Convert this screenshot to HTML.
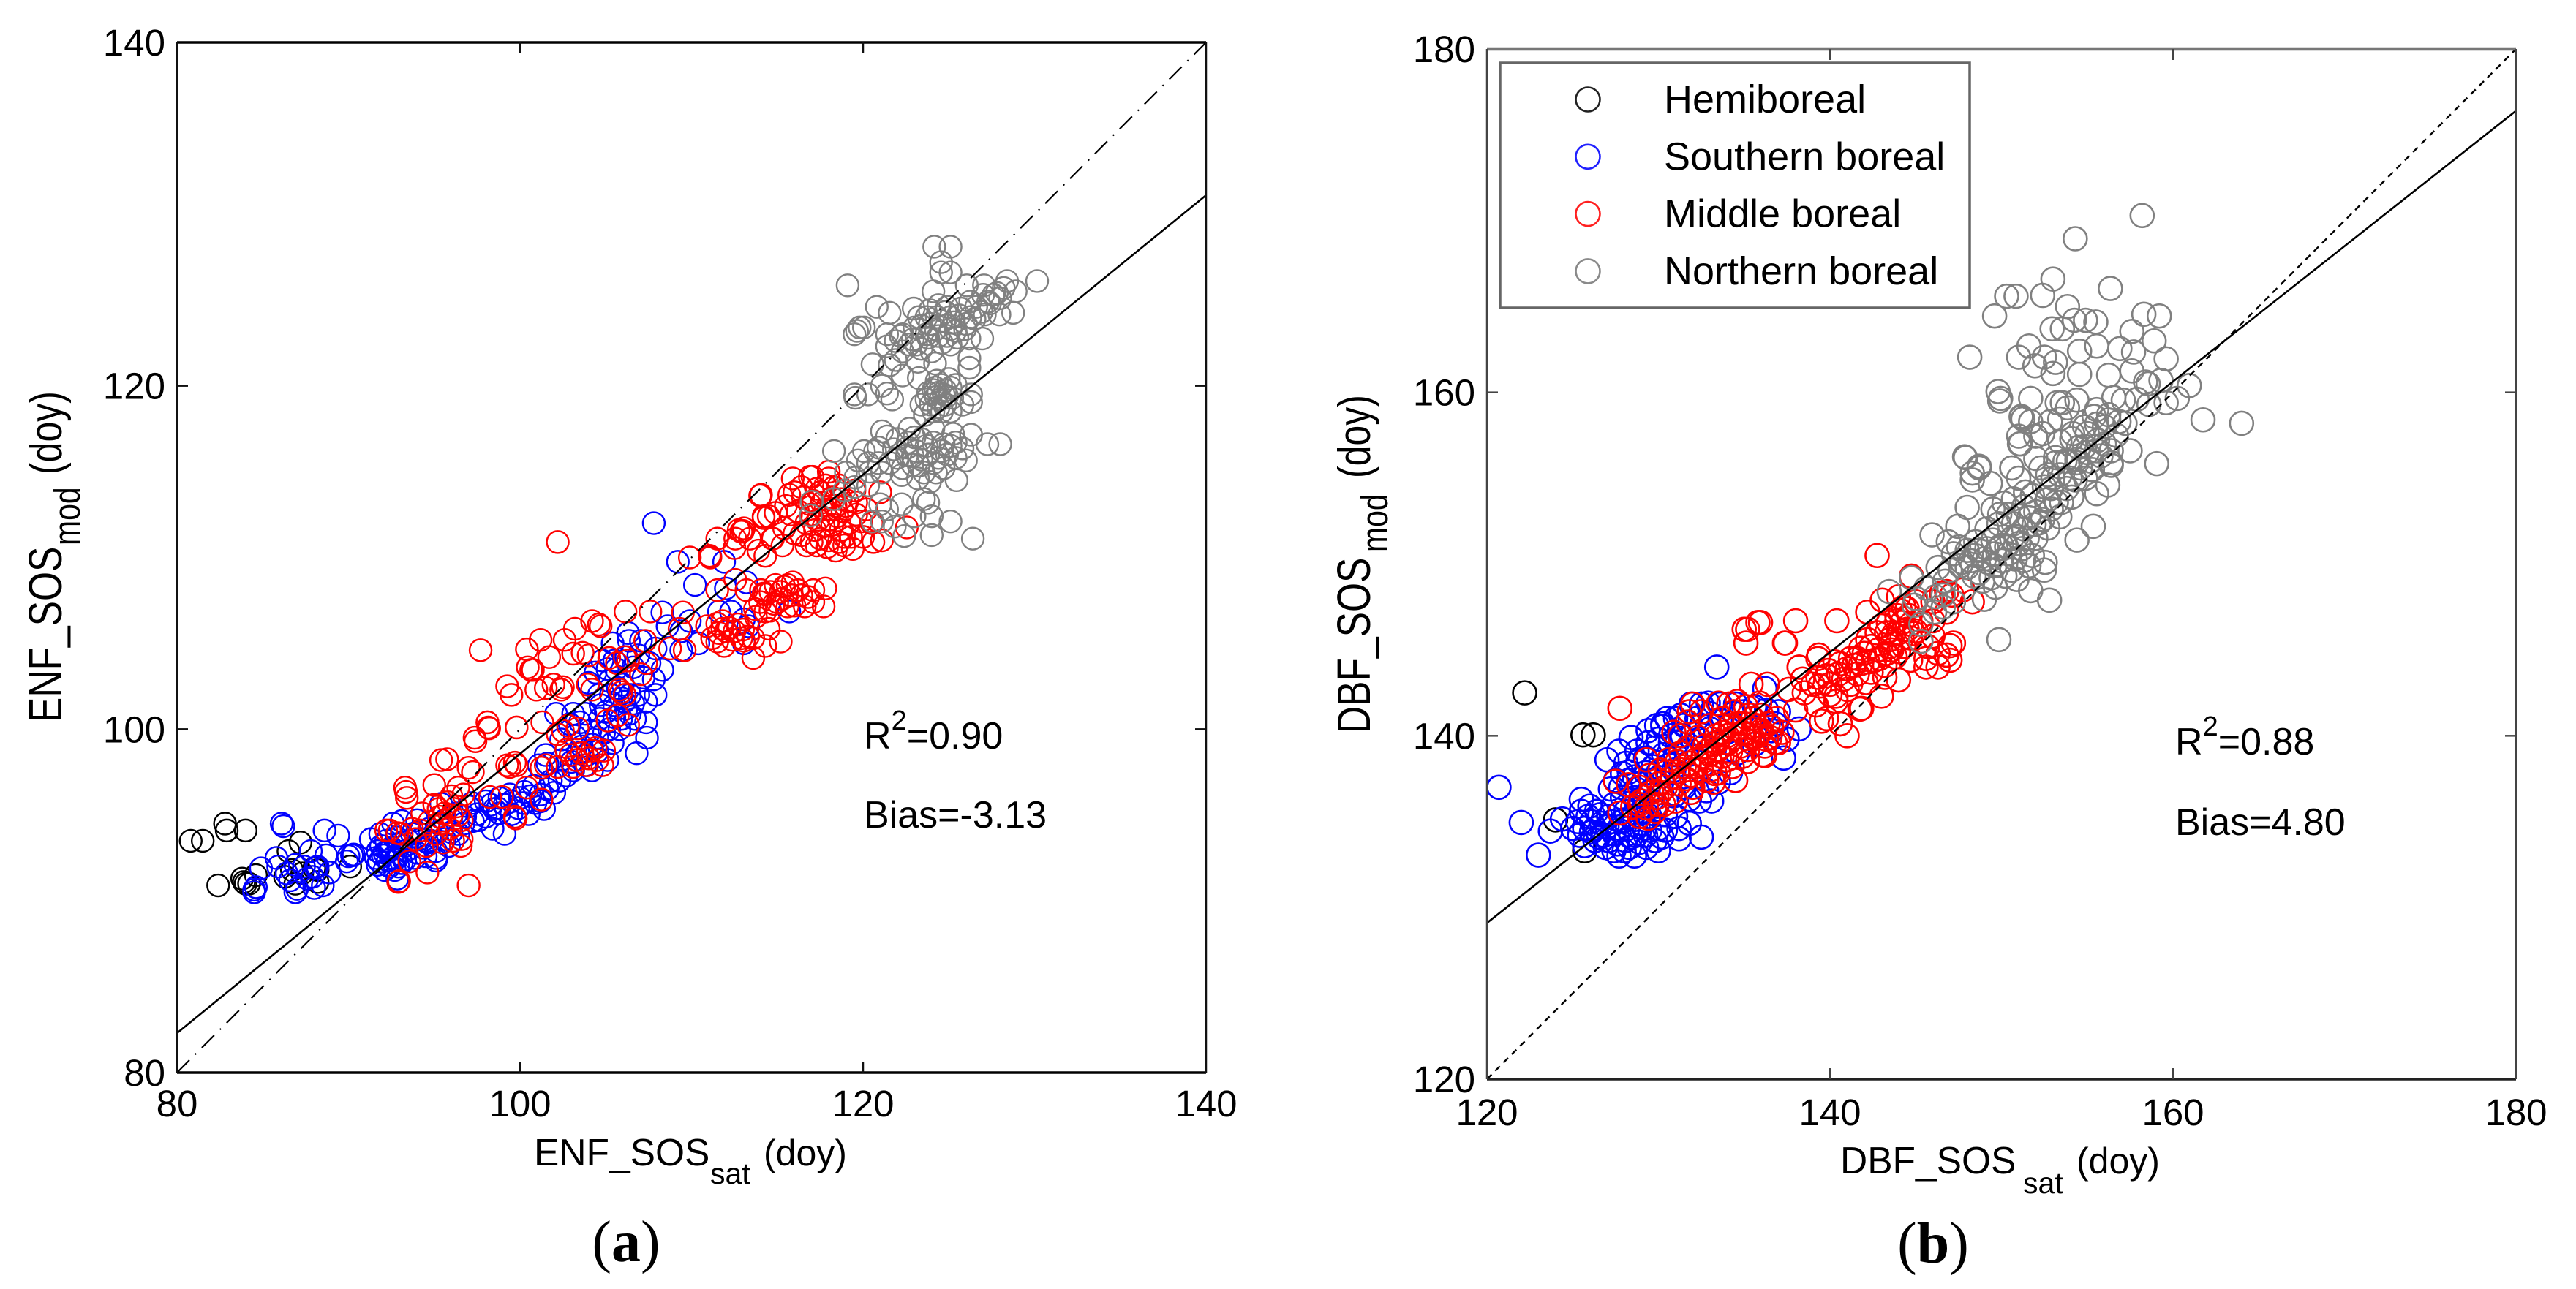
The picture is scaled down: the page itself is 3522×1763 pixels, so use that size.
<!DOCTYPE html>
<html><head><meta charset="utf-8"><title>SOS scatter plots</title>
<style>html,body{margin:0;padding:0;background:#fff}svg{display:block}text{font-family:"Liberation Sans",Arial,sans-serif;fill:#000}</style>
</head><body>
<svg id="fig" xmlns="http://www.w3.org/2000/svg" width="3522" height="1763" viewBox="0 0 3522 1763">
<g id="panelA"></g>
<g id="panelB"></g>
<g>
<text x="730" y="1594" font-size="51.5">ENF_SOS</text>
<text x="971" y="1619" font-size="41">sat</text>
<text x="1044" y="1594" font-size="50">(doy)</text>
<g transform="translate(84,988) rotate(-90) scale(1,1.25)">
<text x="0" y="0" font-size="51.5">ENF_SOS</text><text x="242" y="20" font-size="41">mod</text><text x="339" y="0" font-size="50">(doy)</text></g>
<text x="1181" y="1024" font-size="52">R<tspan font-size="38" dy="-26">2</tspan><tspan dy="26">=0.90</tspan></text>
<text x="1181" y="1132" font-size="52">Bias=-3.13</text>
<text x="856" y="1725" font-size="80" text-anchor="middle" style='font-family:"Liberation Serif",serif'>(<tspan font-weight="bold">a</tspan>)</text>
</g>
<g>
<text x="2516" y="1605" font-size="51.5">DBF_SOS</text>
<text x="2766" y="1632" font-size="41">sat</text>
<text x="2839" y="1605" font-size="50">(doy)</text>
<g transform="translate(1873,1003) rotate(-90) scale(1,1.25)">
<text x="0" y="0" font-size="51.5">DBF_SOS</text><text x="248" y="19" font-size="41">mod</text><text x="349" y="0" font-size="50">(doy)</text></g>
<text x="2974" y="1032" font-size="52">R<tspan font-size="38" dy="-26">2</tspan><tspan dy="26">=0.88</tspan></text>
<text x="2974" y="1142" font-size="52">Bias=4.80</text>
<text x="2643" y="1727" font-size="80" text-anchor="middle" style='font-family:"Liberation Serif",serif'>(<tspan font-weight="bold">b</tspan>)</text>
</g>
<g id="legend"></g>
</svg>
<script>
const enfTicks = [80, 100, 120, 140];
const dbfTicks = [120, 140, 160, 180];
const enfFitX = [80, 140];
const enfFitY = [82.3, 131.1];
const dbfFitX = [120, 180];
const dbfFitY = [129.1, 176.4];
const legendLabels = ["Hemiboreal", "Southern boreal", "Middle boreal", "Northern boreal"];

const enfHemiboreal = [[80.8,93.5],[81.5,93.5],[82.8,94.5],[82.9,94.1],[84,94.1],[82.4,90.9],[83.8,91.3],[83.9,91.1],[84,91],[84.2,91],[84.6,91.5],[86.5,92.9],[87.2,93.4],[86.3,91.4],[86.9,91],[88.2,91.8],[88,91.9],[88.2,91.1],[90.1,92],[87.3,91.6],[86.7,91.8]];

const enfSouthern = [[86.1,94.5],[86.2,94.35],[88.6,94.1],[89.4,93.8],[84.5,90.65],[84.6,90.8],[84.5,90.5],[84.9,91.9],[85.9,92],[85.8,92.5],[86.9,92.1],[87.8,92.9],[88.7,92.65],[88.1,91.95],[87.9,91.4],[86.9,90.5],[88,90.75],[88.5,90.9],[86.6,91.2],[87.4,92],[88.9,91.65],[90,92.6],[90.2,92.65],[90.3,92.7],[89.9,92.3],[87,90.7],[86.4,91.6],[87.6,91.3],[88.2,92],
[91.3,93.6],[91.85,93.9],[92.6,94.5],[93.1,94.65],[94,94.7],[91.7,92.9],[92.1,92.8],[92.4,92.95],[92,92.65],[91.6,92.5],[92.3,92.35],[92.55,92.5],[91.7,92.1],[92.1,91.8],[92.7,91.8],[92.85,91.3],[93.55,92.3],[93.1,92.2],[93.85,92.5],[94,92.8],[93.4,92.95],[93,93.35],[93.5,93.5],[94.35,93.1],[95.1,92.5],[95.1,92.35],[95.1,92.9],[94.6,93.4],[95.4,95.65],[95.85,93.2],[96.7,94.5],[97.25,94.65],[98,95.8],[98.5,95.35],[99.1,93.9],[98.4,94.2],[97.5,95.05],[99.5,95.05],[100.5,95.05],[101.4,95.35],[101.1,97.9],[101.5,98.5],[100.25,96.35],[98.8,95.1],
[94,94],[94.7,94.2],[95.6,94.7],[96.3,95.1],[97,95.5],[98.8,96],[99.4,96.2],[100,96],[100.8,96.7],[101.2,96.2],[101.8,97],
[107.8,112],[109.2,109.75],[111.1,110.05],[111.9,109.75],[110.2,108.4],[112,108.2],[113.2,108.55],[108.3,106.8],[109.9,106.3],[108.6,106],[109.4,105.7],[110.4,105],[109.4,104.6],[111.6,106.85],[112.3,106.85],[113.05,106.4],[113.3,106],[113.05,105],[115.7,106.85],[106.3,105.6],[105.4,105],[106.35,105.15],[107.05,105.15],[107.9,104.7],[107.55,103.85],[108.3,103.45],[107.8,102.9],[107.9,102],[107.35,101.6],[106.9,102],[106.6,101.5],[106.2,101.2],[107.35,100.4],[107.4,99.5],[106.8,98.6],[105.4,99.2],[104.65,100.6],[102.1,100.9],[103.1,100.9],[103.8,100.9],[105.9,100.6],[104.1,99.9],[103.2,99.6],[102.4,99.4],[103.6,99],[104.5,98.7],[105.1,98.2],[102.4,98.2],[101.6,98],[103,98.1],[103.8,97.9],[104.2,97.6],
[104.8,104],[105.6,103.5],[106.6,103.6],[105.2,102.8],[106,102.6],[104,102.7],[104.6,102],[105.9,101.8],[106.4,102],[105.5,101.4],[102.9,100.3],[103.5,100.4]];

const enfSouthernCore = [[91.9,93.2],[92.2,93.5],[92.5,93.1],[92.8,93.7],[92.3,92.9],[92.7,92.4],[93,92.7],[93.3,93.2],[91.8,92.3],[92.4,92],[92.9,92],[93.3,92.4],[93.7,93.9],[94.2,93.6],[94.5,92.6],[94.8,93.5],[95.2,94],[95.6,93.6],[96,94],[96.4,93.9],[96.8,94.9],[97.2,95.7],[97.6,94.7],[98,94.9],[98.3,95.6],[98.7,95.4],[99.1,95.6],[99.5,95.8],[99.9,95.4],[100.2,95.7],[100.6,96.1],[100.9,95.7],[101.2,95.8],[101.6,96.5],[102,96.3],[102.3,97],[102.7,97.3],[103.1,97.6],[103.4,98.6],[103.9,98.5],[104.2,99.1],[104.5,99.5],[104.9,99.8],[105.2,100],[105.5,100.7],[105,101],[104.7,101.4],[105.3,102],[105.7,102.4],[106.1,101.6],[106.4,100.9],[106.7,100.6],[105.8,100],[105.1,103.5],[105.5,104],[106.2,104.2],[106.9,104.3],[107.2,103],[104.4,103.3]];

const enfMiddle = [[97,90.9],[92.9,91.1],[92.95,91.15],[93.55,92.3],[94.6,91.65],[92.4,94.1],[92.85,93.95],[93.1,93.9],[93.7,94.2],[92.2,94.1],[94.55,93.2],[96.55,93.2],[96.6,93.6],[93.3,96.6],[93.35,96.35],[93.4,96],[95,96.75],[95.4,98.2],[95.75,98.25],[97,97.75],[97.25,97.5],[95.25,95.35],[95.8,95.75],[96.4,96.6],[96.7,96.2],[96,95],[95.4,94.5],[96.4,95],[95.1,93.9],[97.35,99.5],[98.1,100.4],[98.15,100.1],[99.8,100.1],[99.25,97.9],[99.4,97.8],[99.8,97.9],[98.25,96.05],[98.95,96.05],[99.7,94.9],[99.75,94.8],[100.4,96.6],[101.25,97.75],[101.25,95.9],[99.25,102.5],[99.5,102],[100.95,102.3],[100.45,103.6],[100.65,103.45],
[102.2,110.9],[97.7,104.6],[100.4,104.65],[101.2,105.2],[102.6,105.2],[103.2,105.85],[104.2,106.3],[104.6,106.1],[104.7,106],[101.7,104.2],[100.75,103.45],[103.1,104.4],[103.65,104.45],[104,104.3],[105.2,104.15],[105.65,103.85],[106.1,104.2],[106.3,104],[107.3,105.15],[107.35,103.85],[107.05,103.2],[108.75,104.7],[109.6,104.6],[109.5,106.8],[107.6,106.85],[106.15,106.85],[109.3,105.85],[101.5,102.4],[101.95,102.6],[102.4,102.3],[102.5,102.45],[103.95,102.6],[104.2,102.3],[105.9,102.15],[106.1,102],[105.8,102.3],[105.1,100.5],[105.7,100.8],[106.3,100.25],[102.5,99.9],[103.35,100.05],[98.1,100.4],[98.2,100.05],[99.8,100.1],[101.3,100.4],[97.4,99.3],[99.7,98.05],[102.95,98.5],[104.2,98.75],[104.4,98.9],[104.9,98.75],[104,98.3],[101.5,97.9],[102.2,97.8],
[109.9,110],[111.05,110.1],[111.1,110],[111.5,111.1],[114,113.6],[112.75,111.6],[113.05,111.7],[112.55,111.1],[113.4,111.1],[114.2,112.4],[114.5,112.4],[113.9,110.4],[114.3,110.1],[114.75,111.1],[112.5,110.55],[111.5,108.1],[112.55,108.7],[113.2,108.1],[114.05,108.1],[114.3,107.85],[114.9,108.4],[115.2,108],[115.6,108.4],[115.9,108.55],[117.1,108.1],[117.8,108.2],[117.7,107.15],[116.6,107.15],[115.6,107.15],[117.1,107.4],[110.9,106],[111.5,106.15],[111.8,105.85],[112,105.7],[112.5,105.7],[112.9,105.3],[113.3,105.4],[111.9,104.85],[113.05,105.15],[113.6,104.15],[114.3,104.85],[115.2,105.1],[114.5,105.85],[113.75,106.55],[114.3,106.85],[114.8,107.3],[115.3,107.6],[116,107.2],[116.4,107.8],[114,107.4],
[114.05,113.65],[115.9,114.6],[117.05,114.7],[116.4,114.1],[114.2,112.3],[118,114.6],[115.7,113.65],[116,113.8],[121,113.8],[122.55,111.75],[112.9,111.5],[114.7,111.1],[113,111.55],
[116.5,113.5],[117,112.5],[117.5,113.8],[117.8,112.8],[118.2,113.5],[118.6,114.2],[118.8,112.7],[119.1,113.3],[119.5,113.9],[117.2,111.6],[117.7,111.8],[118.2,111.9],[118.7,111.6],[119.2,112],[119.6,112.5],[117.3,110.7],[117.9,110.6],[118.4,110.4],[118.9,110.7],[119.4,110.5],[120,111.2],[116.4,111.3],[115.8,112.5],[116,111.4],[115.5,113],[120.2,112.8],[120.5,112],[118,115],[116.9,114.7],[119,113],[117.4,112.2],[118.4,113],[117.1,113.3],[118,112.2],[116.7,110.7],[115.3,110.7],[120.6,110.9],[121.1,111]];

const enfMiddleCore = [[94.3,95.1],[94.7,94.6],[95,95.6],[95.3,94.9],[95.6,95.1],[96,96.1],[96.3,95.5],[96.6,94.7],[95.9,94.2],[95.5,93.4],[96.1,93.5],[93.9,93.6],[94.2,94.1],[103.3,98.2],[103.6,98.6],[103.9,97.9],[104.5,98.2],[104.8,97.9],[103.1,97.8],[102.7,98.8],[102.2,99.7],[102.8,100.2],[111.2,105.3],[111.6,105.6],[111.8,106.3],[112.2,105.9],[112.4,105.2],[112.7,106.1],[113,105.8],[111.5,105.1],[113.7,107],[114.2,107.9],[114.6,108],[115,107.4],[115.4,108.3],[115.8,107.8],[116.2,108.1],[116.8,107.7],[114.6,106.9],[113.6,105.3],[116.9,113.1],[117.3,114],[117.6,113.2],[118.1,112.8],[118.5,112.4],[118.9,111.2],[119.3,111.2],[117,110.9],[117.5,111.1],[118,111],[118.6,110.9],[116.7,112],[117.8,114.2],[118.3,114.1],[119.6,113.2],[119.9,112.1],[116.2,112.7],[115.4,111.7],[114.9,112.6],[118.7,113.4]];

const enfNorthern = [[119.1,125.85],[124.15,128.1],[125.1,128.1],[124.55,127.2],[124.55,126.6],[125.1,126.6],[124.1,125.5],[126.05,125.85],[130.15,126.1],[128.4,126.1],[128.2,125.7],[127.05,125.85],[128.9,125.5],[127.8,125.4],[127,125.3],[120.8,124.6],[121.55,124.25],[122.95,124.5],[124.4,124.7],[128.75,124.25],[127.95,124.15],[127.1,124.15],[126.25,124.9],[126.25,124],[125.1,124],[124.55,123.75],[123.7,124],[123.25,124],[119.8,123.4],[120.05,123.4],[119.5,123],[119.65,123.2],[121.4,123],[122.3,123],[123.7,123],[124.25,123.3],[125.1,123.3],[125.95,123.3],[126.95,122.75],[121.4,122.3],[122.3,122],[123.4,122.15],[124,122],[125.1,122.4],[126.2,121.6],[126.2,121.05],[126.2,122.75],[120.55,121.25],[121.55,121.2],[122.3,120.6],[123.25,120.45],[119.5,119.5],[119.55,119.3],[120.3,119.5],[121.1,120],[121.4,119.55],[121.7,119.2],
[124.1,119.75],[124.55,120.05],[124.8,119.75],[125.1,119.9],[125.4,120.05],[124.25,119.35],[123.7,119.2],[123.95,118.9],[124.4,118.75],[123.4,118.9],[124.1,118.5],[124.7,119.5],[124.8,118.9],[126.3,119.5],[126.3,119.05],[125.8,118.9],[125.1,118.5],
[118.3,116.2],[121.1,117.35],[122.7,117.5],[126.3,117.15],[127.25,116.6],[128,116.6],[125.45,114.5],[120.05,116.2],[119.7,115.65],[120.7,116.2],[121.4,117.05],[122,116.9],[124.1,117.5],[125.25,117.2],[125.1,116.5],[125.8,116.35],[126,115.65],[123.7,116.5],[123.1,116.2],[122.55,115.95],[122,115.8],[121.55,115.5],[123.25,115.35],[124.1,115.5],[124.7,115.2],[124.25,114.95],[123.55,114.95],[122.25,114.8],[121.1,114.95],[119.55,114.65],[120.3,114.2],[119,114.95],[118.3,113.4],[117,113.25],[116.95,112.45],[121,113.1],[120.55,112.1],[121.4,112.8],[122.25,113.1],[123,112.4],[121.1,112.1],[121.85,111.8],[123.55,113.4],[123.8,113.2],[124,112.4],[125.1,112.1],[124,111.3],[126.4,111.1],[122.4,111.25],
[126.6,124.6],[127.4,124.8],[125.7,124.5],[124.9,124.6],[123,123.4],[123.9,123.6],[125.5,122.8],[124.6,122.5],[123.2,121.4],[124.2,121.3],[122.9,122.7],[121.9,121.5],[122.6,116.4],[123.4,116.9],[124.6,116.2],[122.9,115.4],[120.9,115.5],[120.4,115],[125.4,115.8]];

const enfNorthernCore = [[123.9,124.4],[124.3,124],[124.8,124.3],[125.3,123.7],[125.6,124.1],[126,123.6],[126.5,123.9],[126.9,124.3],[127.3,124.9],[127.6,125.3],[128,125.1],[123.4,123.5],[123.8,122.8],[124.4,122.9],[124.9,122.9],[125.4,123.2],[123.1,122.4],[122.7,122.4],[122.2,122.9],[121.9,122.6],[124.2,119.9],[124.5,119.2],[124.9,119.4],[125.2,119.3],[124.4,119.6],[124.6,118.5],[125,120.4],[123.8,119.6],[124.3,120.3],[123.6,118.3],[122.9,115.9],[123.4,115.7],[123.8,116],[124.4,115.8],[124.9,116],[125.4,116.7],[123.2,114.6],[123.9,114.4],[122.6,116.7],[121.8,116.3],[120.9,116.4],[122.3,115.2],[124.7,116.6],[124.1,116.7],[123,117],[120.3,115.5],[119.5,114.1],[118.9,113.9]];

const dbfHemiboreal = [[122.2,142.5],[125.6,140.05],[126.2,140.05],[124,135.1],[125.7,133.3]];

const dbfSouthern = [[120.7,137],[122,134.95],[123.7,134.45],[123,133.05],[125,134.6],[125.5,136.3],[124.4,135.15],[125.5,135.6],[126,135.9],[125.3,135],[125.7,134.6],[126.1,135],[126.4,135.6],[126.7,134.9],[127.1,135.3],[125.7,133.6],[126.3,133.9],[126.8,134.2],[127.4,134.3],[127.7,133],[128.6,133],[130,133.3],[128.1,133.9],[128.7,134.2],[129.25,134.2],[129.8,133.9],[129,134.9],[128.5,135.3],[129.5,135.3],[131.2,134],[132.5,134.1],[131.8,134.9],[131.2,134.6],[133.1,136.2],[132.4,136.2],[131.8,136.3],[137.3,138.7],
[127,138.6],[127.7,139.1],[128.75,139.1],[128.1,138.4],[127.5,137.4],[128.25,137.4],[129.25,138.7],[130.25,140.55],[130.25,140.7],[130,139.8],[129.25,137.85],[133.4,144],[131.9,141.85],[132.5,141.85],[133.6,141.85],[134.5,141.85],[131.4,140],[132.25,141],[130.7,139.6],[129.8,139.3],[136.2,142.75],[136.8,140.7],[137.5,139.8],[138.2,140.4],[134.2,137.85],[132.1,137.6],[127.9,136.4],[127.2,136.9],[128.6,136.4],[129.4,136.7],[130.2,137.3],[130.6,138.3],[131,138.9],[131.6,139.1],[132.4,139.8],[133,140.4],[133.6,140.9],[134.4,141.3],[135,141.4],[135.6,141.7],[136.3,141.5],[130.9,136.5],[131.5,137],[132.8,136.8],[133.5,137.3],[134.6,139],[135.6,139.5],[136.6,140.3],[137,141.4],[126.9,133.5],[127.4,133.3],[128.3,133.5],[129.3,133.5],[130.4,134.5],[130.4,135.4],[131,135.3],[129.9,135.9],[128.1,135.6],[127.4,136],[128.6,137.6],[129.4,139.6],[128.4,139.9],[130.5,141],[131,141],[128,133.3],[129,135.6]];

const dbfSouthernCore = [[125.9,135.3],[126.3,134.6],[126.6,135.4],[127,134.7],[127.3,135],[127.7,134.5],[127.9,135],[128.2,134.6],[128.4,134.1],[128.8,134.7],[129.2,134.6],[129.5,134.5],[130,134.6],[126.5,134.1],[127.1,133.9],[127.6,133.7],[128.9,133.8],[130.2,134.1],[126.1,134.4],[125.4,134.2],[127.8,137],[128.3,137.9],[128.8,138.5],[129.1,137.3],[129.7,138.2],[130.3,138.9],[130,137.9],[130.7,140],[131.1,139.6],[131.5,140.6],[132,140.1],[132.5,140.6],[133,141.3],[130.9,138],[128.7,136.9],[127.9,137.8],[129.4,140.3],[129.9,140.6],[131.3,141.2],[132.9,141.9],[128,135.1],[128.9,135.8],[129.6,136.2]];

const dbfMiddle = [[127.75,141.6],[129.3,138.6],[127.5,137.35],[128.25,137.15],[127.75,135.5],[128.5,135.85],[129.8,135.6],[129.9,136],[130.1,136.7],[131.25,140],[131.8,141.4],[132,141.85],[134.1,141.85],[134.5,137.4],[132.8,137.4],[133.2,137.3],[133.5,137.85],[135.2,146.2],[135.8,146.6],[135,146.2],[135.1,145.4],[137.35,145.4],[135.4,143],[136.35,143],[138.2,144],[139.3,144.5],[141,140],[140.6,140.7],[141.75,141.55],[140.35,142],[139.8,141],[136.2,138.85],
[129,136.2],[129.6,136.7],[130,137.2],[130.4,137],[130.8,137.6],[131.2,137.2],[131.5,138.2],[131.9,137.7],[132.2,138.6],[132.5,138],[132.8,139.1],[133.1,138.4],[133.4,139.6],[133.7,138.8],[134,140],[134.2,139.1],[134.5,140.4],[134.8,139.4],[135,140.7],[135.3,139.7],[135.5,141],[135.8,140],[136,141.2],[136.3,139.8],[136.6,140.5],[136.9,141],[137,139.6],[137.2,140.2],[133,140.6],[133.7,141],[134.4,141.4],[135.1,141.7],[135.9,141.9],[132.3,139.9],[131.7,139.3],[131.3,139],[130.6,138.6],[130.1,138],[129.5,137.7],[128.9,137],[133.3,137.8],[134.3,138.2],[135.2,138.5],[136.1,138.9],[132,137],[131,136.2],[130.3,136],[129.3,135.8],[132.8,137.4],[133.5,141.9],[134.6,142],[130.9,140.2],[131.7,140.8],[132.5,141.4],[133.9,139.6],[134.9,140.2],[135.6,140.4],[136.4,140.7],[133.2,139.5],[132.6,138.8],[131.8,138.4],[131.1,137.9],[135.3,141.2],[134.2,140.6],[133.4,140],
[135.95,146.6],[138,146.7],[137.4,145.4],[140.4,146.7],[142.2,147.2],[142.75,150.5],[144.75,149.3],[143.05,147.9],[144,148.1],[148.3,147.8],[146.8,148.4],[147.75,148.5],[147,145.25],[147.2,145.4],[146.3,144],[145.6,144],[143,142.3],[141.85,141.6],[140.35,142.3],[140.6,140.7],[139.5,140.85],[144,143.25],[144.7,144.4],[138.2,144],[139.35,144.7],[142.75,146],[141.6,144.5],[140.6,144.2],[139.9,143.8],[143.5,145.2],[143.9,146.7],[144.5,147.4],[145.3,146.7],[144.9,145.95],[146.3,144.8],[147,144.4],[145.6,144.5],
[139,143],[139.8,143.5],[140.3,144.3],[140.8,143.3],[141.2,144.5],[141.6,143.6],[142,144.8],[142.4,143.7],[142.8,145],[143.2,144.1],[143.5,145.6],[143.8,144.6],[144,146],[144.3,145.2],[143.4,146.6],[143.9,147],[144.3,147.5],[144.7,146.5],[145,147.8],[145.3,146.5],[145.3,145.5],[144.7,145.7],[138.5,142.5],[139.2,141.8],[140,142.4],[141,142.7],[137.6,142.7],[138,141.5],[146,147.8],[146.5,148.3],[147.1,148.2],[146.8,147.2],[146,146.7],[146.8,144.7],[145.7,145.2],[146,145.8],[142.2,145.6],[143,146.4],[141.2,143],[142.1,143.1],[143.2,143.4],[139.4,142.9],[138.4,143.3]];

const dbfMiddleCore = [[130.5,137.9],[131.1,138.5],[131.6,137.5],[132.1,138.2],[132.7,139.4],[133,138.9],[133.5,139.2],[133.8,140.2],[134.1,139.6],[134.4,139.9],[134.7,140.7],[135,140.1],[135.2,139.2],[135.5,139.9],[135.7,140.6],[136,140.3],[136.2,139.4],[136.5,139.9],[136.8,139.6],[134.9,138.8],[134,138.6],[133,138],[131.9,136.7],[130.7,136.6],[129.9,136.4],[128.9,136],[129.4,135.2],[128.9,135.3],[140.5,143.6],[141,143.9],[141.4,144.1],[141.8,144.2],[142.2,144.3],[142.6,144.4],[142.9,144.5],[143.3,144.8],[143.6,145],[144,144.9],[144.2,145.7],[144.5,146.2],[143.7,145.9],[143.3,146],[144.2,146.6],[144.6,147],[144.1,147.3],[145,146.1],[140,143],[139.3,143.4],[142.4,145.2],[141.8,145.1]];

const dbfNorthern = [[149.85,145.6],[152.8,147.9],[151.7,148.45],[155.35,152.2],[154.4,151.4],[155.55,154.1],[156.4,155.75],[147.9,156.2],[145.95,151.7],[143.45,148.4],[144.75,149.2],[148.7,155.7],[148.3,154.9],[149.35,154.7],[150.6,155.6],[151,155],[151.15,158.6],[151.1,157],[148,153.3],[150.15,153.55],[147.45,152.2],[146.9,151.3],[146.3,149.8],[152.55,150.1],[152.5,149.65],
[149.85,150.9],[149.15,150.9],[148.45,150.5],[147.7,150.1],[151.3,152.05],[150.6,151.5],[149.85,152.35],[149.15,152.05],[152,153.05],[151.3,153.35],[150.7,152.35],[153.4,152.75],[154.1,153.9],[152.7,153.75],[153.15,156.2],[154.1,157.3],[155.55,158.15],[156.25,158.7],[154.85,158],[153.4,158.45],[152.4,157.6],[151.7,158.3],[152.7,155.2],[151.3,150.2],[149.6,149.9],[148.7,149.5],[147,149.65],[150.6,149.65],[149.65,148.65],[149,147.95],[146.6,148.2],[146.15,148.1],[145.3,146.5],[145.3,145.5],
[148.5,151.3],[149,150.3],[149.5,151.4],[150,150.2],[150.3,151],[150.8,150.3],[151,151.2],[148,149.8],[147.5,151],[148,150.8],[151.5,151.5],[152,151.5],[151.8,150.5],[151.9,152.3],[152.4,152.6],[152.9,153.2],[153.5,153.6],[154,155],[154.6,155.6],[155,156.5],[155.6,157.2],[156,157],[156.7,157.5],[157.2,158.2],[153,155],[153.7,156],[154.5,156.8],[152.5,154.5],[151.8,154],[150.7,153.8],[155.3,155.5],[156.2,154.6],
[158.2,170.3],[154.3,168.95],[153,166.6],[152.4,165.65],[150.3,165.6],[150.85,165.6],[149.6,164.45],[156.35,166.05],[153.85,165],[152.95,163.7],[153.55,163.7],[154.25,164.2],[154.9,164.2],[155.5,164.1],[158.3,164.55],[159.2,164.45],[148.15,162.05],[151.6,162.7],[151,162.05],[152.5,162.05],[153.15,161.75],[151.95,161.55],[153,161.1],[154.55,162.4],[155.55,162.7],[156.9,162.55],[157.6,163.55],[158.9,163],[157.7,162.35],[159.6,161.95],[154.55,161.05],[156.25,161],[157.6,161.25],[158.55,160.5],[160.95,160.4],[160.25,159.65],[161.75,158.4],[164,158.2],[157.5,156.6],[159.05,155.85],[156.4,155.9],[149.8,160.05],[149.95,159.65],[149.9,159.5],[151.7,159.65],[151.15,158.55],[151.25,158.45],[151,157.45],[151.05,157],[152,157.45],[153.25,159.4],[153.55,159.4],[153.85,159.1],[154.4,159.55],[155.55,159],[156.55,159.7],[157.1,159.55],[156.25,158.4],[154.85,158],[154.15,157.6],[153.4,157.15],[152.85,158.3],[154.85,156.85],[155.55,156.6],[156.85,158.3],[152,156.15],[153.15,155.9],[154.4,155.9],[147.85,156.25],[148.7,155.6],[150.6,155.6],[148.3,155.3],[158.4,160.6],[159.3,160.7],[157.9,159.6],[158.6,159.3],[159.6,159.4]];

const dbfNorthernCore = [[147.2,150.6],[147.6,149.9],[148.2,150.2],[148.7,150.8],[149.2,150.1],[149.6,150.6],[150,151.1],[150.4,150.6],[150.9,151.6],[151.2,150.9],[149.4,149.2],[148.9,149],[148.4,149.3],[150.2,149.3],[150.9,149.1],[151.6,149.9],[149.9,152.9],[150.4,152.9],[151,152.8],[151.6,152.7],[152.2,152.4],[152.7,152.1],[153.2,153.6],[153.8,154.4],[154.3,154.9],[154.9,155],[155.2,156],[155.8,156.3],[156.4,156.6],[153.4,155.2],[152.9,154.4],[153.9,156],[154.4,156.1],[155,157.6],[155.4,158.6],[156,158],[152.3,155.6],[151.4,154.2],[149.5,153.2],[146.7,149],[145.6,148.6],[145,148],[146.1,147.2],[146.6,147.5],[147.2,147.8],[144.9,147.6]];

const SVG_NS = "http://www.w3.org/2000/svg";
const enfPlot = {l: 242, r: 1649, t: 58, b: 1467, lo: 80, hi: 140, ty: 18, xb: 1527, yr: 226, r0: 15, sw: 2.4};
const dbfPlot = {l: 2033, r: 3440, t: 67, b: 1476, lo: 120, hi: 180, ty: 18, xb: 1539, yr: 2017, r0: 16, sw: 2.6};
const xScale = (p, v) => p.l + (v - p.lo) / (p.hi - p.lo) * (p.r - p.l);
const yScale = (p, v) => p.b - (v - p.lo) / (p.hi - p.lo) * (p.b - p.t);

function node(parent, tag, name, attrs) {
  const el = document.createElementNS(SVG_NS, tag);
  
  
  for (const k in attrs) el.setAttribute(k, attrs[k]);
  parent.appendChild(el);
  return el;
}

function drawSeries(g, p, points, color, name) {
  const group = node(g, 'g', name, {fill: 'none', stroke: color, 'stroke-width': p.sw});
  points.forEach(function (pt) {
    node(group, 'circle', name + '-point', {cx: xScale(p, pt[0]), cy: yScale(p, pt[1]), r: p.r0});
  });
}

function drawFrame(g, p, ticks, suffix, colors) {
  const frame = [
    ['top', p.l, p.t, p.r, p.t, colors.top, colors.topW],
    ['bottom', p.l, p.b, p.r, p.b, colors.bottom, 3.5],
    ['left', p.l, p.t, p.l, p.b, colors.side, 2.5],
    ['right', p.r, p.t, p.r, p.b, colors.side, 2.5]
  ];
  frame.forEach(function (f) {
    node(g, 'line', 'axis-' + f[0] + '-' + suffix, {x1: f[1], y1: f[2], x2: f[3], y2: f[4], stroke: f[5], 'stroke-width': f[6]});
  });
  ticks.forEach(function (v, i) {
    const x = xScale(p, v), y = yScale(p, v);
    if (i > 0 && i < ticks.length - 1) {
      node(g, 'line', 'tick-mark', {x1: x, y1: p.b, x2: x, y2: p.b - 15, stroke: colors.side, 'stroke-width': 2.5});
      node(g, 'line', 'tick-mark', {x1: x, y1: p.t, x2: x, y2: p.t + 15, stroke: colors.side, 'stroke-width': 2.5});
      node(g, 'line', 'tick-mark', {x1: p.l, y1: y, x2: p.l + 15, y2: y, stroke: colors.side, 'stroke-width': 2.5});
      node(g, 'line', 'tick-mark', {x1: p.r, y1: y, x2: p.r - 15, y2: y, stroke: colors.side, 'stroke-width': 2.5});
    }
    const xl = node(g, 'text', 'x-tick-label-' + suffix, {x: x, y: p.xb, 'text-anchor': 'middle', 'font-size': 51});
    xl.textContent = v;
    const yl = node(g, 'text', 'y-tick-label-' + suffix, {x: p.yr, y: y + p.ty, 'text-anchor': 'end', 'font-size': 51});
    yl.textContent = v;
  });
}

function drawPanel(g, p, ticks, fitX, fitY, series, suffix, colors, dash, lineW) {
  drawSeries(g, p, series[0], '#000000', 'hemiboreal-' + suffix);
  drawSeries(g, p, series[1], '#0000ff', 'southern-boreal-' + suffix);
  drawSeries(g, p, series[2], '#ff0000', 'middle-boreal-' + suffix);
  drawSeries(g, p, series[3], '#808080', 'northern-boreal-' + suffix);
  node(g, 'line', 'one-to-one-line-' + suffix, {x1: xScale(p, p.lo), y1: yScale(p, p.lo), x2: xScale(p, p.hi), y2: yScale(p, p.hi), stroke: '#000', 'stroke-width': lineW, 'stroke-dasharray': dash});
  node(g, 'line', 'fit-line-' + suffix, {x1: xScale(p, fitX[0]), y1: yScale(p, fitY[0]), x2: xScale(p, fitX[1]), y2: yScale(p, fitY[1]), stroke: '#000', 'stroke-width': 2.6});
  drawFrame(g, p, ticks, suffix, colors);
}

drawPanel(document.getElementById('panelA'), enfPlot, enfTicks, enfFitX, enfFitY,
  [enfHemiboreal, enfSouthern.concat(enfSouthernCore), enfMiddle.concat(enfMiddleCore), enfNorthern.concat(enfNorthernCore)], 'a',
  {top: '#000', topW: 3.5, bottom: '#000', side: '#111'}, '24 11 2 11', 2.2);
drawPanel(document.getElementById('panelB'), dbfPlot, dbfTicks, dbfFitX, dbfFitY,
  [dbfHemiboreal, dbfSouthern.concat(dbfSouthernCore), dbfMiddle.concat(dbfMiddleCore), dbfNorthern.concat(dbfNorthernCore)], 'b',
  {top: '#777', topW: 4.5, bottom: '#222', side: '#444'}, '9 7', 2.4);

const legendG = document.getElementById('legend');
node(legendG, 'rect', 'legend-box', {x: 2051, y: 86, width: 642, height: 335, fill: '#fff', stroke: '#666', 'stroke-width': 3.5});
const legendColors = ['#222222', '#2020ff', '#ff2020', '#8a8a8a'];
legendLabels.forEach(function (label, i) {
  const y = 136 + i * 78.3;
  node(legendG, 'circle', 'legend-marker', {cx: 2171, cy: y, r: 16.5, fill: 'none', stroke: legendColors[i], 'stroke-width': 2.6});
  const t = node(legendG, 'text', 'legend-label', {x: 2275, y: y + 18, 'font-size': 54});
  t.textContent = label;
});
</script>
</body></html>
